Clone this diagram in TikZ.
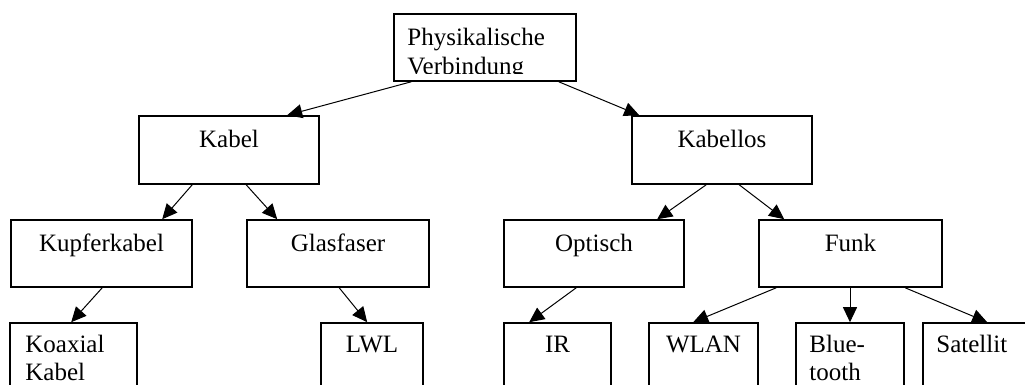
\documentclass[tikz,border=0pt]{standalone}
\usepackage{fontspec}
\setmainfont{Liberation Serif}
\usetikzlibrary{arrows.meta}
\begin{document}
\begin{tikzpicture}[x=1pt,y=-1pt,
  box/.style={draw, line width=1.6pt, inner sep=0pt},
  lbl/.style={font=\fontsize{25}{29.5}\selectfont, inner sep=0pt},
  link/.style={line width=1pt, -{Triangle[length=15pt,width=14pt]}}]
\useasboundingbox (0,0) rectangle (1025,385);
\clip (0,0) rectangle (1025,385);

% boxes
\node[box, minimum width=182pt, minimum height=67pt] (phys) at (485,47.5) {};
\node[box, minimum width=180pt, minimum height=68pt] (kabel) at (229,150) {};
\node[box, minimum width=180pt, minimum height=68pt] (kabellos) at (722,150) {};
\node[box, minimum width=181pt, minimum height=67pt] (kupfer) at (101.5,253.5) {};
\node[box, minimum width=182pt, minimum height=67pt] (glas) at (338,253.5) {};
\node[box, minimum width=180pt, minimum height=67pt] (optisch) at (594,253.5) {};
\node[box, minimum width=183pt, minimum height=67pt] (funk) at (850.5,253.5) {};
\node[box, minimum width=127pt, minimum height=80pt] (koax) at (73.5,363) {};
\node[box, minimum width=102pt, minimum height=80pt] (lwl) at (372,363) {};
\node[box, minimum width=107pt, minimum height=80pt] (ir) at (557.5,363) {};
\node[box, minimum width=109pt, minimum height=80pt] (wlan) at (703.5,363) {};
\node[box, minimum width=108pt, minimum height=80pt] (blue) at (850,363) {};
\node[box, minimum width=117pt, minimum height=80pt] (sat) at (981.5,363) {};

% labels
\node[lbl, anchor=base west] at ([xshift=14pt,yshift=-32pt]phys.north west) {Physikalische};
\begin{scope}
  \clip (394,14) rectangle (576,74);
  \node[lbl, anchor=base west] at ([xshift=14pt,yshift=-61.5pt]phys.north west) {Verbindung};
\end{scope}
\node[lbl, anchor=base] at ([yshift=-32pt]kabel.north) {Kabel};
\node[lbl, anchor=base] at ([yshift=-32pt]kabellos.north) {Kabellos};
\node[lbl, anchor=base] at ([yshift=-32pt]kupfer.north) {Kupferkabel};
\node[lbl, anchor=base] at ([yshift=-32pt]glas.north) {Glasfaser};
\node[lbl, anchor=base] at ([yshift=-32pt]optisch.north) {Optisch};
\node[lbl, anchor=base] at ([yshift=-32pt]funk.north) {Funk};
\node[lbl, anchor=base west] at ([xshift=16pt,yshift=-30pt]koax.north west) {Koaxial};
\node[lbl, anchor=base west] at ([xshift=16pt,yshift=-58pt]koax.north west) {Kabel};
\node[lbl, anchor=base] at ([yshift=-30pt]lwl.north) {LWL};
\node[lbl, anchor=base] at ([yshift=-30pt]ir.north) {IR};
\node[lbl, anchor=base] at ([yshift=-30pt]wlan.north) {WLAN};
\node[lbl, anchor=base west] at ([xshift=14pt,yshift=-30pt]blue.north west) {Blue-};
\node[lbl, anchor=base west] at ([xshift=14pt,yshift=-58pt]blue.north west) {tooth};
\node[lbl, anchor=base west] at ([xshift=14pt,yshift=-30pt]sat.north west) {Satellit};

% connectors
\draw[link] ([xshift=18pt]phys.south west) -- ([xshift=149pt]kabel.north west);
\draw[link] ([xshift=-18pt]phys.south east) -- ([xshift=8pt]kabellos.north west);
\draw[link] ([xshift=54pt]kabel.south west) -- ([xshift=152pt]kupfer.north west);
\draw[link] ([xshift=108pt]kabel.south west) -- ([xshift=31pt]glas.north west);
\draw[link] ([xshift=75pt]kabellos.south west) -- ([xshift=154pt]optisch.north west);
\draw[link] ([xshift=108pt]kabellos.south west) -- ([xshift=26pt]funk.north west);
\draw[link] ([xshift=92pt]kupfer.south west) -- ([xshift=62pt]koax.north west);
\draw[link] ([xshift=93pt]glas.south west) -- ([xshift=47pt]lwl.north west);
\draw[link] ([xshift=73pt]optisch.south west) -- ([xshift=26pt]ir.north west);
\draw[link] ([xshift=18pt]funk.south west) -- ([xshift=45pt]wlan.north west);
\draw[link] (funk.south -| blue.north) -- (blue.north);
\draw[link] ([xshift=147pt]funk.south west) -- ([xshift=65pt]sat.north west);
\end{tikzpicture}
\end{document}
